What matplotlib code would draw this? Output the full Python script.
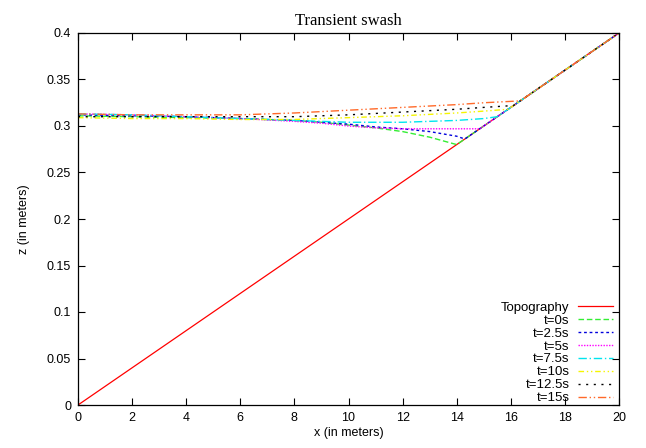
import matplotlib
matplotlib.use("Agg")
import matplotlib.pyplot as plt

# Topography
topo_x = [0, 20]
topo_z = [0.0, 0.4]

# Free surface profiles (x in m, z in m)
x_t0 = [0, 2, 4, 6, 8, 9, 10, 11, 12, 13, 14.0, 20]
z_t0 = [0.311, 0.310, 0.309, 0.308, 0.306, 0.304, 0.301, 0.298, 0.294, 0.288, 0.280, 0.4]

x_t25 = [0, 2, 4, 6, 8, 9, 10, 11, 12, 13, 14, 14.3, 20]
z_t25 = [0.312, 0.311, 0.310, 0.308, 0.306, 0.304, 0.302, 0.299, 0.297, 0.294, 0.289, 0.286, 0.4]

x_t5 = [0, 2, 4, 6, 8, 9, 10, 11, 12, 13, 14, 14.85, 20]
z_t5 = [0.313, 0.312, 0.310, 0.308, 0.305, 0.303, 0.300, 0.298, 0.297, 0.297, 0.297, 0.297, 0.4]

x_t75 = [0, 2, 4, 6, 8, 9, 10, 11, 12, 13, 14, 15, 15.5, 20]
z_t75 = [0.313, 0.312, 0.310, 0.308, 0.306, 0.305, 0.304, 0.304, 0.304, 0.305, 0.306, 0.308, 0.310, 0.4]

x_t10 = [0, 2, 4, 6, 8, 10, 12, 14, 15, 15.9, 20]
z_t10 = [0.309, 0.308, 0.308, 0.307, 0.307, 0.309, 0.311, 0.314, 0.316, 0.318, 0.4]

x_t125 = [0, 2, 4, 6, 8, 10, 12, 14, 15, 16.1, 20]
z_t125 = [0.310, 0.310, 0.310, 0.310, 0.310, 0.312, 0.315, 0.318, 0.320, 0.322, 0.4]

x_t15 = [0, 2, 4, 6, 8, 10, 12, 14, 15, 16.35, 20]
z_t15 = [0.313, 0.312, 0.312, 0.312, 0.314, 0.317, 0.320, 0.323, 0.325, 0.327, 0.4]

labels = ["t=0s", "t=2.5s", "t=5s", "t=7.5s", "t=10s", "t=12.5s", "t=15s"]
xs = [x_t0, x_t25, x_t5, x_t75, x_t10, x_t125, x_t15]
zs = [z_t0, z_t25, z_t5, z_t75, z_t10, z_t125, z_t15]
colors = ["#33ee33", "#0000dd", "#ff00ff", "#00e5ee", "#f5f500", "#000000", "#ff6a2a"]
styles = [(0, (4, 2)), (0, (2, 2)), (0, (1, 1)), (0, (6, 2, 1, 2)),
          (0, (4, 2, 1, 2, 1, 2)), (0, (1.5, 4)), (0, (6, 2, 1, 2, 1, 2))]

plt.rcParams['font.family'] = ['Liberation Sans', 'DejaVu Sans']

fig = plt.figure(figsize=(6.46, 4.48), dpi=100)
ax = fig.add_axes([78/646, 43/448, (619-78)/646, (405-33)/448])

ax.plot(topo_x, topo_z, color="red", lw=0.9, label="Topography")
for x, z, c, ls, lab in zip(xs, zs, colors, styles, labels):
    ax.plot(x, z, color=c, lw=1.0, linestyle=ls, label=lab)

ax.set_xlim(0, 20)
ax.set_ylim(0, 0.4)
ax.set_xticks(range(0, 21, 2))
ax.set_yticks([0, 0.05, 0.1, 0.15, 0.2, 0.25, 0.3, 0.35, 0.4])
ax.set_yticklabels(["0", "0.05", "0.1", "0.15", "0.2", "0.25", "0.3", "0.35", "0.4"])
ax.tick_params(direction="in", top=True, right=True, length=5, labelsize=9, pad=5)
for s in ax.spines.values():
    s.set_linewidth(0.9)

ax.set_xlabel("x (in meters)", fontsize=9, labelpad=2)
ax.set_ylabel("z (in meters)", fontsize=9, labelpad=12)
ax.set_title("Transient swash", fontsize=12, family=["Liberation Serif", "DejaVu Serif"], pad=6)

leg = ax.legend(loc="lower right", bbox_to_anchor=(0.999, -0.012), markerfirst=False,
                frameon=False, fontsize=9.5, handlelength=2.7, labelspacing=0.05,
                borderaxespad=0.0, handletextpad=0.6)
for t in leg.get_texts():
    t.set_ha("right")
leg._legend_box.align = "right"

fig.savefig("out.png", dpi=100)
